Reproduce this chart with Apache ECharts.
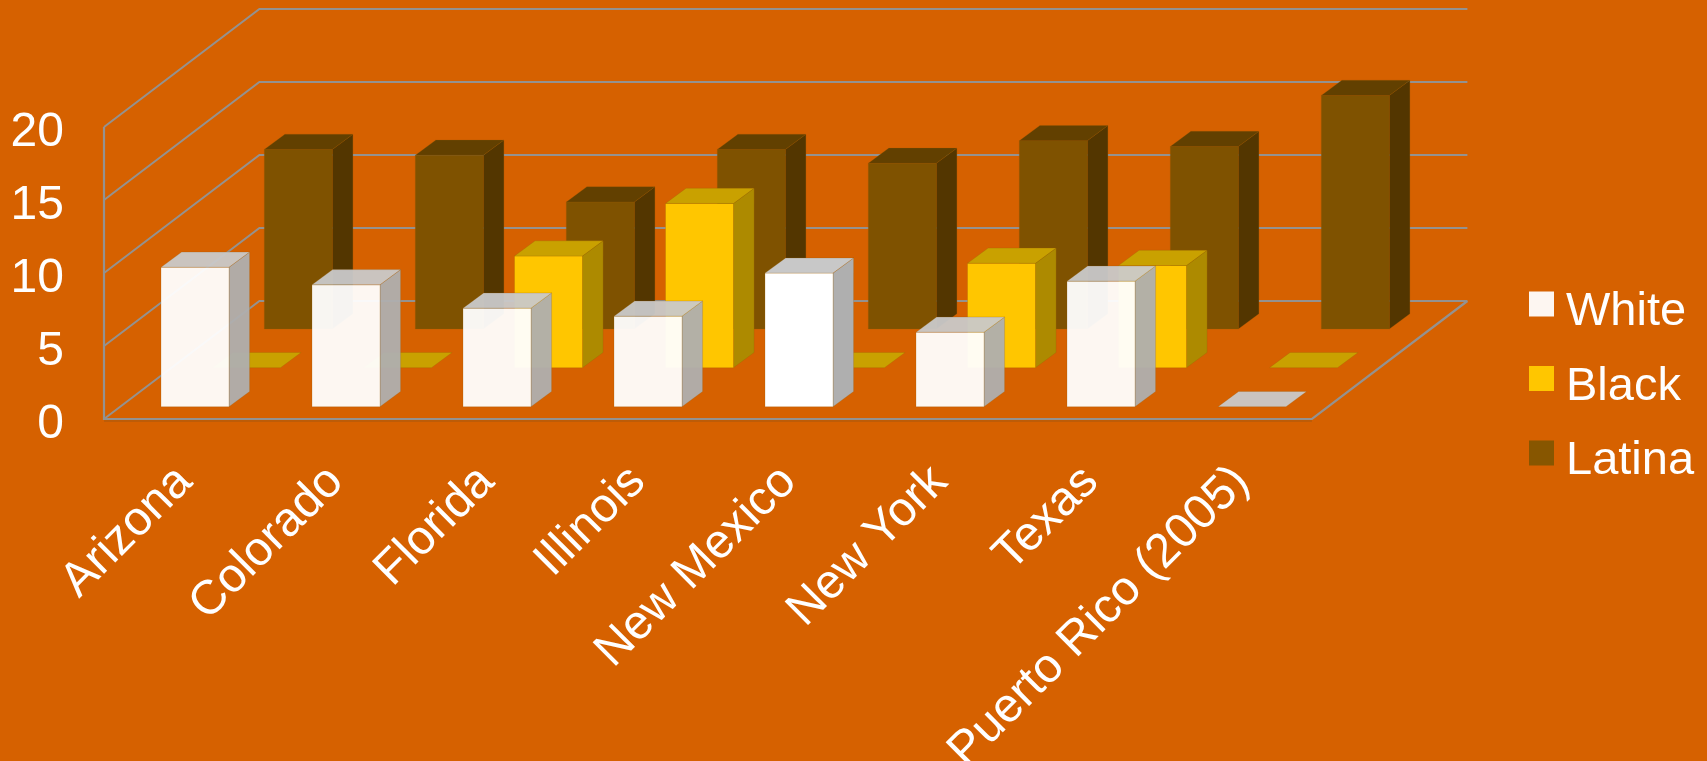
<!DOCTYPE html>
<html>
<head>
<meta charset="utf-8">
<style>html,body{margin:0;padding:0;background:#d66100;overflow:hidden}#c{width:1707px;height:761px}</style>
<script src="https://cdn.jsdelivr.net/npm/echarts@6/dist/echarts.min.js"></script>
</head>
<body>
<div id="c"></div>
<script>
const categories = ['Arizona','Colorado','Florida','Illinois','New Mexico','New York','Texas','Puerto Rico (2005)'];
const white  = [9.55, 8.35, 6.75, 6.2, 9.15, 5.1, 8.6, 0];
const black  = [0, 0, 7.65, 11.25, 0, 7.15, 7, 0];
const latina = [12.3, 11.9, 8.7, 12.3, 11.35, 12.9, 12.5, 16];
const wallTicks = [0, 5, 10, 15, 20];

const DEPTH = [155.4, -118];
const BAR_DEPTH = [20.6, -15.2];
const BAR_W = 68;
const FONT = '"Liberation Sans", Arial, sans-serif';
const FONT_COLOR = '#ffffff';
const LINE = '#949290';
const opaqueIndex = 4;

function barRender(off, c, alpha) {
  return function (params, api) {
    const i = api.value(0);
    const v = api.value(1);
    const base = api.coord([i, 0]);
    const top = api.coord([i, v]);
    const cx = base[0] + off[0];
    const l = cx - BAR_W / 2, r = cx + BAR_W / 2;
    const yb = base[1] + off[1], yt = top[1] + off[1];
    const dx = BAR_DEPTH[0], dy = BAR_DEPTH[1];
    const op = alpha < 1 && i === opaqueIndex ? 1 : alpha;
    const cols = alpha < 1 && i === opaqueIndex ? c.solid : c;
    const edge = { stroke: 'rgba(150,90,0,0.3)', lineWidth: 0.8, opacity: op };
    const children = [];
    if (v > 0) {
      children.push({ type: 'polygon', shape: { points: [[r, yb], [r + dx, yb + dy], [r + dx, yt + dy], [r, yt]] },
        style: Object.assign({ fill: cols.side }, edge) });
      children.push({ type: 'rect', shape: { x: l, y: yt, width: BAR_W, height: yb - yt },
        style: Object.assign({ fill: cols.front }, edge) });
    }
    children.push({ type: 'polygon', shape: { points: [[l, yt], [r, yt], [r + dx, yt + dy], [l + dx, yt + dy]] },
      style: Object.assign({ fill: cols.top }, edge) });
    return { type: 'group', children };
  };
}

function wallRender(params, api) {
  const v = api.value(0);
  const cs = params.coordSys;
  const y = api.coord([0, v])[1];
  const x0 = cs.x, x1 = cs.x + cs.width;
  const style = { stroke: LINE, lineWidth: 2, fill: 'none' };
  const children = [{ type: 'polyline', shape: { points: [[x0, y], [x0 + DEPTH[0], y + DEPTH[1]], [x1 + DEPTH[0], y + DEPTH[1]]] }, style }];
  if (v === 0) {
    children.push({ type: 'polyline', shape: { points: [[x0, y + 2], [x1, y + 2]] },
      style: { stroke: '#a5590f', lineWidth: 1, fill: 'none' } });
    children.push({ type: 'polyline', shape: { points: [[x0, cs.y], [x0, y], [x1, y], [x1 + DEPTH[0], y + DEPTH[1]]] },
      style: { stroke: LINE, lineWidth: 2.2, fill: 'none' } });
  }
  return { type: 'group', children };
}

const styles = {
  White: { front: '#ffffff', side: '#afafaf', top: '#c9c9c9', solid: { front: '#ffffff', side: '#afafaf', top: '#c8c8c8' } },
  Black: { front: '#ffc600', side: '#ad8a00', top: '#c9a100' },
  Latina: { front: '#7f5200', side: '#533600', top: '#624000' }
};
const legendColor = { White: '#fdf6f1', Black: '#ffc600', Latina: '#875600' };

function barSeries(name, values, off, alpha, z) {
  return {
    name, type: 'custom', z,
    coordinateSystem: 'cartesian2d',
    itemStyle: { color: legendColor[name] },
    encode: { x: 0, y: 1 },
    data: values.map((v, i) => [i, v]),
    renderItem: barRender(off, styles[name], alpha),
    silent: true
  };
}

const chart = echarts.init(document.getElementById('c'), null, { renderer: 'canvas' });
chart.setOption({
  animation: false,
  backgroundColor: '#d66100',
  textStyle: { fontFamily: FONT },
  grid: { left: 104, top: 127, width: 1208, height: 292, containLabel: false, outerBoundsMode: 'none' },
  legend: {
    orient: 'vertical', left: 1529, top: 289,
    data: ['White', 'Black', 'Latina'],
    icon: 'rect', itemWidth: 25, itemHeight: 25, itemGap: 27.5,
    formatter: n => `{t|${n}}`,
    textStyle: { color: FONT_COLOR, fontSize: 47, fontFamily: FONT,
      rich: { t: { color: FONT_COLOR, fontSize: 47, fontFamily: FONT, padding: [17, 0, 0, 7] } } },
    padding: 0, selectedMode: false
  },
  xAxis: {
    type: 'category', data: categories,
    axisLine: { show: false }, axisTick: { show: false }, splitLine: { show: false },
    axisLabel: { color: FONT_COLOR, fontSize: 48, fontFamily: FONT, rotate: 45, interval: 0, margin: 50, hideOverlap: false, verticalAlign: 'top', lineHeight: 15 }
  },
  yAxis: {
    type: 'value', min: 0, max: 20, interval: 5,
    axisLine: { show: false }, axisTick: { show: false }, splitLine: { show: false },
    axisLabel: { color: FONT_COLOR, fontSize: 48, fontFamily: FONT, margin: 40, verticalAlign: 'top', lineHeight: 12 }
  },
  series: [
    { name: 'walls', type: 'custom', z: 1, coordinateSystem: 'cartesian2d', silent: true,
      encode: { y: 0 }, data: wallTicks.map(v => [v]), renderItem: wallRender },
    barSeries('Latina', latina, [118.8, -90], 1, 2),
    barSeries('Black', black, [67, -51.3], 1, 3),
    barSeries('White', white, [15.5, -12.3], 0.95, 4)
  ]
});
</script>
</body>
</html>
